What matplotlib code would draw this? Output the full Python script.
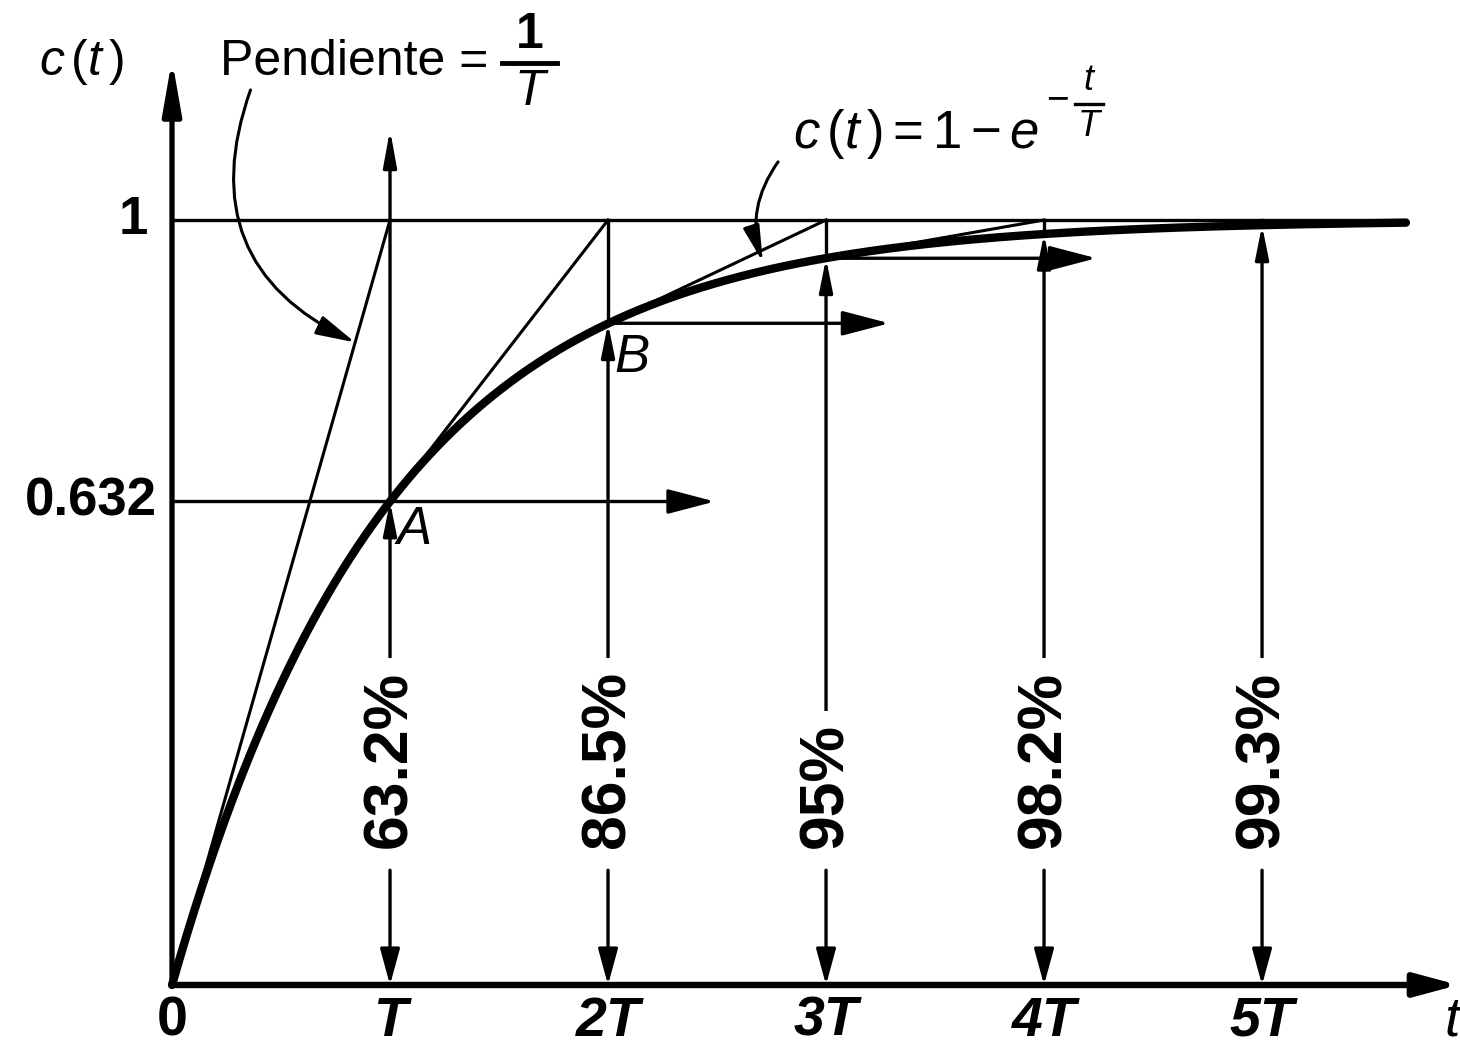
import matplotlib.pyplot as plt
import numpy as np
from matplotlib.patches import FancyArrowPatch

plt.rcParams['font.family'] = ['Liberation Sans', 'DejaVu Sans']
plt.rcParams['mathtext.fontset'] = 'custom'
plt.rcParams['mathtext.rm'] = 'Liberation Sans'
plt.rcParams['mathtext.it'] = 'Liberation Sans:italic'
plt.rcParams['mathtext.bf'] = 'Liberation Sans:bold'

# time axis in units of T
multiples = [1, 2, 3, 4, 5]
tick_labels = ['T', '2T', '3T', '4T', '5T']
percent = [63.2, 86.5, 95.0, 98.2, 99.3]
pct_labels = ['63.2%', '86.5%', '95%', '98.2%', '99.3%']
point_names = ['A', 'B']
# horizontal arrows at c(T), c(2T), c(3T)
h_start = [0.0, 2.0, 3.0]
h_end = [2.49, 3.29, 4.24]
t_end = 5.66

fig = plt.figure(figsize=(14.6, 10.5), dpi=100)
ax = fig.add_axes([0, 0, 1, 1])
ax.set_xlim(-0.789, 5.908)
ax.set_ylim(-0.085, 1.2876)
ax.axis('off')


def arrow(p0, p1, lw=2.4, hl=1.0, hw=0.2, ms=20):
    ax.add_patch(FancyArrowPatch(p0, p1, arrowstyle=f'-|>,head_length={hl},head_width={hw}',
                                 mutation_scale=ms, lw=lw, color='k',
                                 shrinkA=0, shrinkB=0, zorder=3))


def fraction(xc, ybar, num, den, size, half_w, lw=3.0, num_bold=False):
    # stacked fraction: numerator above a bar, italic denominator below
    ax.text(xc, ybar + 0.007, num, fontsize=size, ha='center', va='bottom',
            fontweight='bold' if num_bold else 'normal',
            style='normal' if num_bold else 'italic')
    ax.plot([xc - half_w, xc + half_w], [ybar, ybar], color='k', lw=lw)
    ax.text(xc, ybar - 0.007, den, fontsize=size, style='italic', ha='center', va='top')


# axes
arrow((0, 0), (0, 1.21), lw=3.8, hl=1.6, hw=0.28)
arrow((0, 0), (5.9, 0), lw=4.6, hl=1.3, hw=0.35)

# response curve and final value
t = np.linspace(0, t_end, 500)
ax.plot(t, 1 - np.exp(-t), color='k', lw=6, solid_capstyle='round', zorder=4)
ax.plot([0, t_end], [1, 1], color='k', lw=2.4)

# tangent lines: each reaches the final value one T later
ax.plot([0, 1], [0, 1], color='k', lw=2.2)
for n in [1, 2, 3]:
    y0 = percent[n - 1] / 100
    ax.plot([n, n + 1], [y0, 1], color='k', lw=2.2)

# horizontal arrows
for xs, xe, p in zip(h_start, h_end, percent[:3]):
    arrow((xs, p / 100), (xe, p / 100), hl=1.45, hw=0.38)

# vertical arrows at T, 2T, ... 5T
for n, p, lab in zip(multiples, percent, pct_labels):
    yv = p / 100
    arrow((n, 0.2), (n, yv))
    arrow((n, 0.15), (n, 0), hl=1.1, hw=0.3)
    if n == 1:
        arrow((n, yv), (n, 1.118), hl=1.1, hw=0.2)
    else:
        ax.plot([n, n], [yv, 1], color='k', lw=2.4)
    ax.text(n, 0.179, lab, rotation=90, ha='center', va='bottom', fontsize=45,
            fontweight='bold',
            bbox=dict(boxstyle='square,pad=0.2', fc='white', ec='none'), zorder=5)

# point labels
ax.text(1.03, 0.595, point_names[0], fontsize=38, style='italic', va='center', ha='left')
ax.text(2.03, 0.82, point_names[1], fontsize=38, style='italic', va='center', ha='left')

# tick labels
ax.text(0, -0.048, '0', fontsize=40, fontweight='bold', ha='center', va='center')
for n, lab in zip(multiples, tick_labels):
    ax.text(n, -0.048, lab, fontsize=40, fontweight='bold', style='italic',
            ha='center', va='center')
ax.text(5.87, -0.048, 't', fontsize=40, style='italic', ha='center', va='center')
ax.text(-0.11, 1.0, '1', fontsize=38, fontweight='bold', ha='right', va='center')
ax.text(-0.07, 0.632, '0.632', fontsize=38, fontweight='bold', ha='right', va='center')
ax.text(-0.61, 1.19, r'$c\,(t\,)$', fontsize=36, ha='left', va='baseline')

# slope annotation
ax.text(0.22, 1.19, 'Pendiente =', fontsize=36, ha='left', va='baseline')
fraction(1.64, 1.205, '1', 'T', 36, 0.125, lw=3.5, num_bold=True)
ax.annotate('', xy=(0.84, 0.84), xytext=(0.36, 1.17),
            arrowprops=dict(arrowstyle='-|>,head_length=1.2,head_width=0.3',
                            mutation_scale=20, lw=2.2, color='k',
                            connectionstyle='arc3,rad=0.45', shrinkA=0, shrinkB=0))

# curve label with a full-size t/T exponent
ax.text(2.85, 1.094, r'$c\,(t\,) = 1 - e$', fontsize=38, ha='left', va='baseline')
ax.text(4.06, 1.157, '\u2212', fontsize=28, ha='center', va='center')
fraction(4.205, 1.152, 't', 'T', 26, 0.065, lw=2.4)
ax.annotate('', xy=(2.71, 0.945), xytext=(2.78, 1.076),
            arrowprops=dict(arrowstyle='-|>,head_length=1.1,head_width=0.25',
                            mutation_scale=20, lw=2.2, color='k',
                            connectionstyle='arc3,rad=0.25', shrinkA=0, shrinkB=0))

fig.savefig('out.png', dpi=100, facecolor='white')
